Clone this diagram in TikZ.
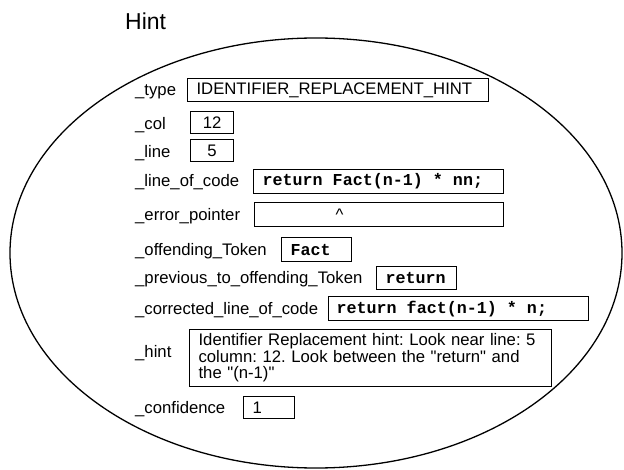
\documentclass[tikz,border=0pt]{standalone}
\usepackage{fontspec}
\setmainfont{Liberation Sans}
\newfontfamily\codefont{Liberation Mono}[WordSpace={1,0,0}]
\newcommand\csp{\hspace*{0.6em}}
\frenchspacing
\begin{document}
\begin{tikzpicture}[x=1pt,y=-1pt,
  lab/.style={anchor=base west, inner sep=0pt, font=\fontsize{16.7}{16.5}\selectfont},
  fbox/.style={draw, line width=1.2pt, anchor=north west, inner xsep=9pt, inner ysep=0pt,
     align=left, font=\fontsize{16.7}{16.5}\selectfont},
  cbox/.style={fbox, font=\fontsize{16.7}{16.5}\selectfont\codefont\bfseries}]
\useasboundingbox (0,0) rectangle (624,470);
\node[anchor=base west, inner sep=0pt, font=\fontsize{23}{23}\selectfont] (title) at (125,30) {Hint};
\draw[line width=1.3pt] (316,253) ellipse [x radius=306, y radius=215];
% labels
\node[lab] (ltype) at (135,96) {\_type};
\node[lab] (lcol) at (135,129.5) {\_col};
\node[lab] (lline) at (135,157.5) {\_line};
\node[lab] (lloc) at (135,187) {\_line\_of\_code};
\node[lab] (lerr) at (135,221) {\_error\_pointer};
\node[lab] (loff) at (135,256) {\_offending\_Token};
\node[lab] (lprev) at (135,284) {\_previous\_to\_offending\_Token};
\node[lab] (lcorr) at (135,315) {\_corrected\_line\_of\_code};
\node[lab] (lhint) at (135,357) {\_hint};
\node[lab] (lconf) at (135,413.5) {\_confidence};
% boxes
\node[fbox, minimum width=301pt, minimum height=23pt, text width=283pt] (btype) at (187,78) {IDENTIFIER\_REPLACEMENT\_HINT};
\node[fbox, minimum width=43pt, minimum height=22pt, text width=25pt, align=center] (bcol) at (190,111) {12};
\node[fbox, minimum width=43pt, minimum height=22pt, text width=25pt, align=center] (bline) at (190,139) {5};
\node[cbox, minimum width=250pt, minimum height=24pt, text width=232pt] (bloc) at (253,169) {return\csp Fact(n-1)\csp*\csp nn;};
\node[fbox, minimum width=249pt, minimum height=24pt, text width=231pt] (berr) at (254,202) {\hspace*{72pt}\textasciicircum};
\node[cbox, minimum width=70pt, minimum height=24pt, text width=52pt] (boff) at (281,237) {Fact};
\node[cbox, minimum width=80pt, minimum height=23pt, text width=62pt] (bprev) at (376,266) {return};
\node[cbox, minimum width=260pt, minimum height=24pt, text width=244pt, inner xsep=7pt] (bcorr) at (328,296) {return\csp fact(n-1)\csp*\csp n;};
\node[fbox, minimum width=362pt, minimum height=57pt, text width=344pt] (bhint) at (189,329) {Identifier Replacement hint: Look near line: 5\\column: 12. Look between the \textquotedbl return\textquotedbl{} and\\the \textquotedbl(n-1)\textquotedbl};
\node[fbox, minimum width=51pt, minimum height=22pt, text width=33pt] (bconf) at (243,396) {1};
\end{tikzpicture}
\end{document}
